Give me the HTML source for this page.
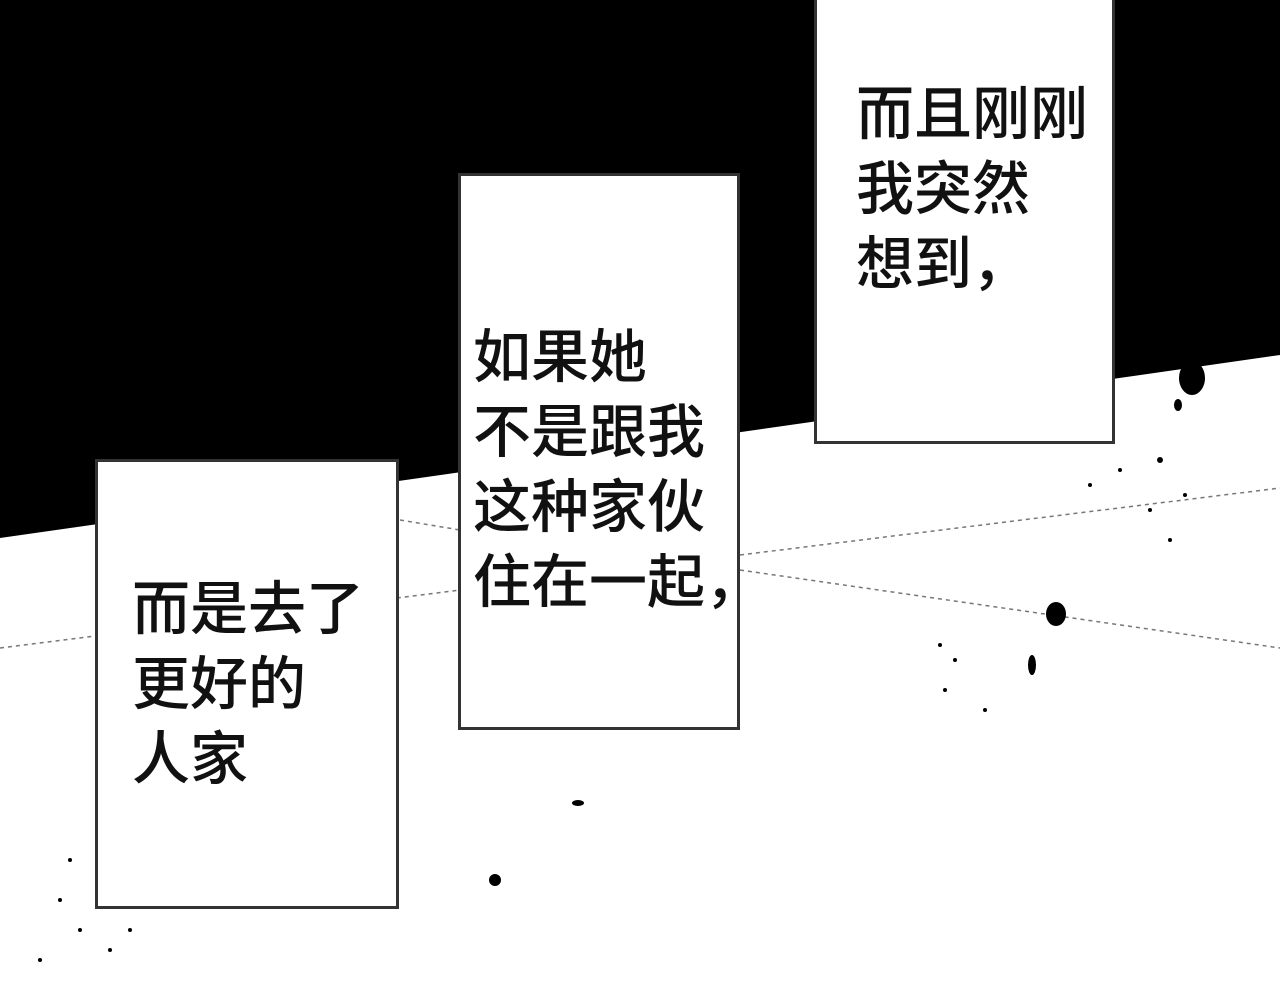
<!DOCTYPE html>
<html><head><meta charset="utf-8"><style>
html,body{margin:0;padding:0;width:1280px;height:1000px;overflow:hidden;background:#fff}
.box{position:absolute;background:#fff;border:3px solid #333;box-sizing:border-box}
.t{position:absolute;font-family:"Liberation Sans","Noto Sans CJK SC",sans-serif;font-size:58px;font-weight:500;line-height:75px;color:#111;white-space:nowrap}
</style></head><body>
<svg width="1280" height="1000" style="position:absolute;left:0;top:0">
<polygon points="0,0 1280,0 1280,355 0,538" fill="#000"/>
<g stroke="#777" stroke-width="1.5" stroke-dasharray="4,4" fill="none">
<line x1="0" y1="648" x2="460" y2="590"/>
<line x1="400" y1="520" x2="460" y2="530"/>
<line x1="740" y1="555" x2="1280" y2="488"/>
<line x1="740" y1="570" x2="1280" y2="648"/>
</g>
<g fill="#000">
<ellipse cx="1192" cy="378" rx="13" ry="17"/>
<ellipse cx="1178" cy="405" rx="4" ry="6"/>
<ellipse cx="1056" cy="614" rx="10" ry="12"/>
<ellipse cx="1032" cy="665" rx="4" ry="10"/>
<circle cx="495" cy="880" r="6"/>
<ellipse cx="578" cy="803" rx="6" ry="3"/>
<circle cx="1160" cy="460" r="3"/><circle cx="1120" cy="470" r="2"/><circle cx="1090" cy="485" r="2"/>
<circle cx="1150" cy="510" r="2"/><circle cx="1185" cy="495" r="2"/><circle cx="1170" cy="540" r="2"/>
<circle cx="940" cy="645" r="2"/><circle cx="955" cy="660" r="2"/><circle cx="945" cy="690" r="2"/><circle cx="985" cy="710" r="2"/>
<circle cx="70" cy="860" r="2"/><circle cx="60" cy="900" r="2"/><circle cx="80" cy="930" r="2"/><circle cx="40" cy="960" r="2"/><circle cx="110" cy="950" r="2"/><circle cx="130" cy="930" r="2"/>
</g>
</svg>
<div class="box" style="left:95px;top:459px;width:304px;height:450px"></div>
<div class="box" style="left:458px;top:173px;width:282px;height:557px"></div>
<div class="box" style="left:814px;top:-4px;width:301px;height:448px"></div>
<div class="t" style="left:856px;top:77px">而且刚刚<br>我突然<br>想到，</div>
<div class="t" style="left:473px;top:320px">如果她<br>不是跟我<br>这种家伙<br>住在一起，</div>
<div class="t" style="left:132px;top:572px">而是去了<br>更好的<br>人家</div>
</body></html>
